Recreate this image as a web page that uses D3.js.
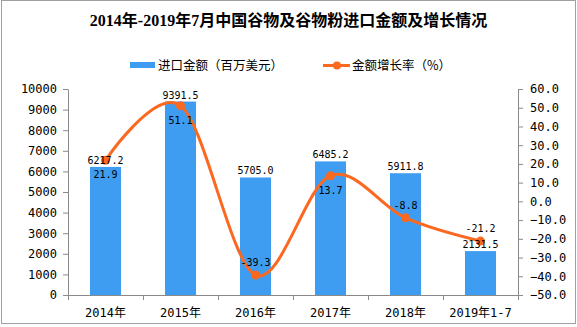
<!DOCTYPE html>
<html><head><meta charset="utf-8">
<script src="https://cdn.jsdelivr.net/npm/d3@7"></script>
<style>body{margin:0;background:#fff}svg{display:block}</style>
</head><body>
<svg id="c" width="577" height="327"></svg>
<script>
const title = "2014年-2019年7月中国谷物及谷物粉进口金额及增长情况";
const categories = ["2014年","2015年","2016年","2017年","2018年","2019年1-7"];
const amounts = [6217.2, 9391.5, 5705.0, 6485.2, 5911.8, 2131.5];
const growth = [21.9, 51.1, -39.3, 13.7, -8.8, -21.2];
const leftTicks = [0,1000,2000,3000,4000,5000,6000,7000,8000,9000,10000];
const rightTicks = [-50,-40,-30,-20,-10,0,10,20,30,40,50,60];
const legendNames = ["进口金额（百万美元）","金额增长率（%）"];

const svg = d3.select("#c");
const W = 577, H = 327;
const m = {l:68, r:518, t:89, b:295};
const barColor = "#3E9DF0", lineColor = "#FB6820", axisColor = "#8a8a8a";
const numFont = "'DejaVu Sans Mono','Liberation Mono',monospace";
const cjk = "'Noto Sans CJK SC'";

svg.append("rect").attr("x",1.5).attr("y",0.5).attr("width",574).attr("height",323)
  .attr("fill","#fff").attr("stroke","#a0a0a0");

svg.append("text").attr("x",288.5).attr("y",26).attr("text-anchor","middle")
  .style("font-family","'Liberation Serif',"+cjk).style("font-weight","bold").style("font-size","16px")
  .text(title);

// legend
const lg = svg.append("g").style("font-family",cjk).style("font-size","12.5px");
lg.append("rect").attr("x",130).attr("y",62).attr("width",25).attr("height",6).attr("fill",barColor);
lg.append("text").attr("x",158).attr("y",69.5).text(legendNames[0]);
lg.append("line").attr("x1",323).attr("x2",350).attr("y1",65.5).attr("y2",65.5).attr("stroke",lineColor).attr("stroke-width",3);
lg.append("circle").attr("cx",337).attr("cy",65.5).attr("r",4).attr("fill",lineColor);
lg.append("text").attr("x",352).attr("y",69.5).text(legendNames[1]);

const x = d3.scaleBand().domain(categories).range([m.l,m.r]).paddingInner(0.586).paddingOuter(0.293);
const xb = d3.scaleBand().domain(categories).range([m.l,m.r]);
const yL = d3.scaleLinear().domain([0,10000]).range([m.b,m.t]);
const yR = d3.scaleLinear().domain([-50,60]).range([m.b,m.t]);

// bars
svg.append("g").selectAll("rect").data(amounts).join("rect")
  .attr("x",(d,i)=>x(categories[i])).attr("width",x.bandwidth())
  .attr("y",d=>yL(d)).attr("height",d=>m.b-yL(d)).attr("fill",barColor);

// axes
function styleAxis(g){
  g.selectAll("path,line").attr("stroke",axisColor);
  g.selectAll("text").attr("fill","#000").style("font-family",numFont+","+cjk).style("font-size","12px");
}
svg.append("g").attr("transform",`translate(${m.l},0)`)
  .call(d3.axisLeft(yL).tickValues(leftTicks).tickFormat(d3.format("d")).tickSize(5).tickSizeOuter(0).tickPadding(6))
  .call(styleAxis);
svg.append("g").attr("transform",`translate(${m.r},0)`)
  .call(d3.axisRight(yR).tickValues(rightTicks).tickFormat(d3.format(".1f")).tickSize(5).tickSizeOuter(0).tickPadding(7))
  .call(styleAxis);
const xg = svg.append("g").attr("transform",`translate(0,${m.b})`)
  .call(d3.axisBottom(xb).tickSize(0).tickPadding(13))
  .call(styleAxis);
xg.select(".domain").attr("d",`M${m.l},0.5H${m.r}`);
// boundary ticks
xg.selectAll(".bt").data(d3.range(categories.length+1)).join("line").attr("class","bt")
  .attr("x1",i=>m.l+i*xb.step()+0.5).attr("x2",i=>m.l+i*xb.step()+0.5)
  .attr("y1",0).attr("y2",5).attr("stroke",axisColor);

// line
const cx = (d,i)=>xb(categories[i])+xb.bandwidth()/2;
svg.append("path").datum(growth)
  .attr("d",d3.line().x(cx).y(d=>yR(d)).curve(d3.curveCardinal.tension(0)))
  .attr("fill","none").attr("stroke",lineColor).attr("stroke-width",3);
svg.append("g").selectAll("circle").data(growth).join("circle")
  .attr("cx",cx).attr("cy",d=>yR(d)).attr("r",4.5).attr("fill",lineColor);

// labels
const lab = svg.append("g").style("font-family",numFont).style("font-size","10px").attr("text-anchor","middle");
lab.selectAll(".bl").data(amounts).join("text").attr("class","bl")
  .attr("x",cx).attr("y",d=>yL(d)-3).text(d=>d.toFixed(1));
lab.selectAll(".ll").data(growth).join("text").attr("class","ll")
  .attr("x",cx).attr("y",d=>d>=0?yR(d)+18:yR(d)-9).text(d=>d.toFixed(1));
</script>
</body></html>
